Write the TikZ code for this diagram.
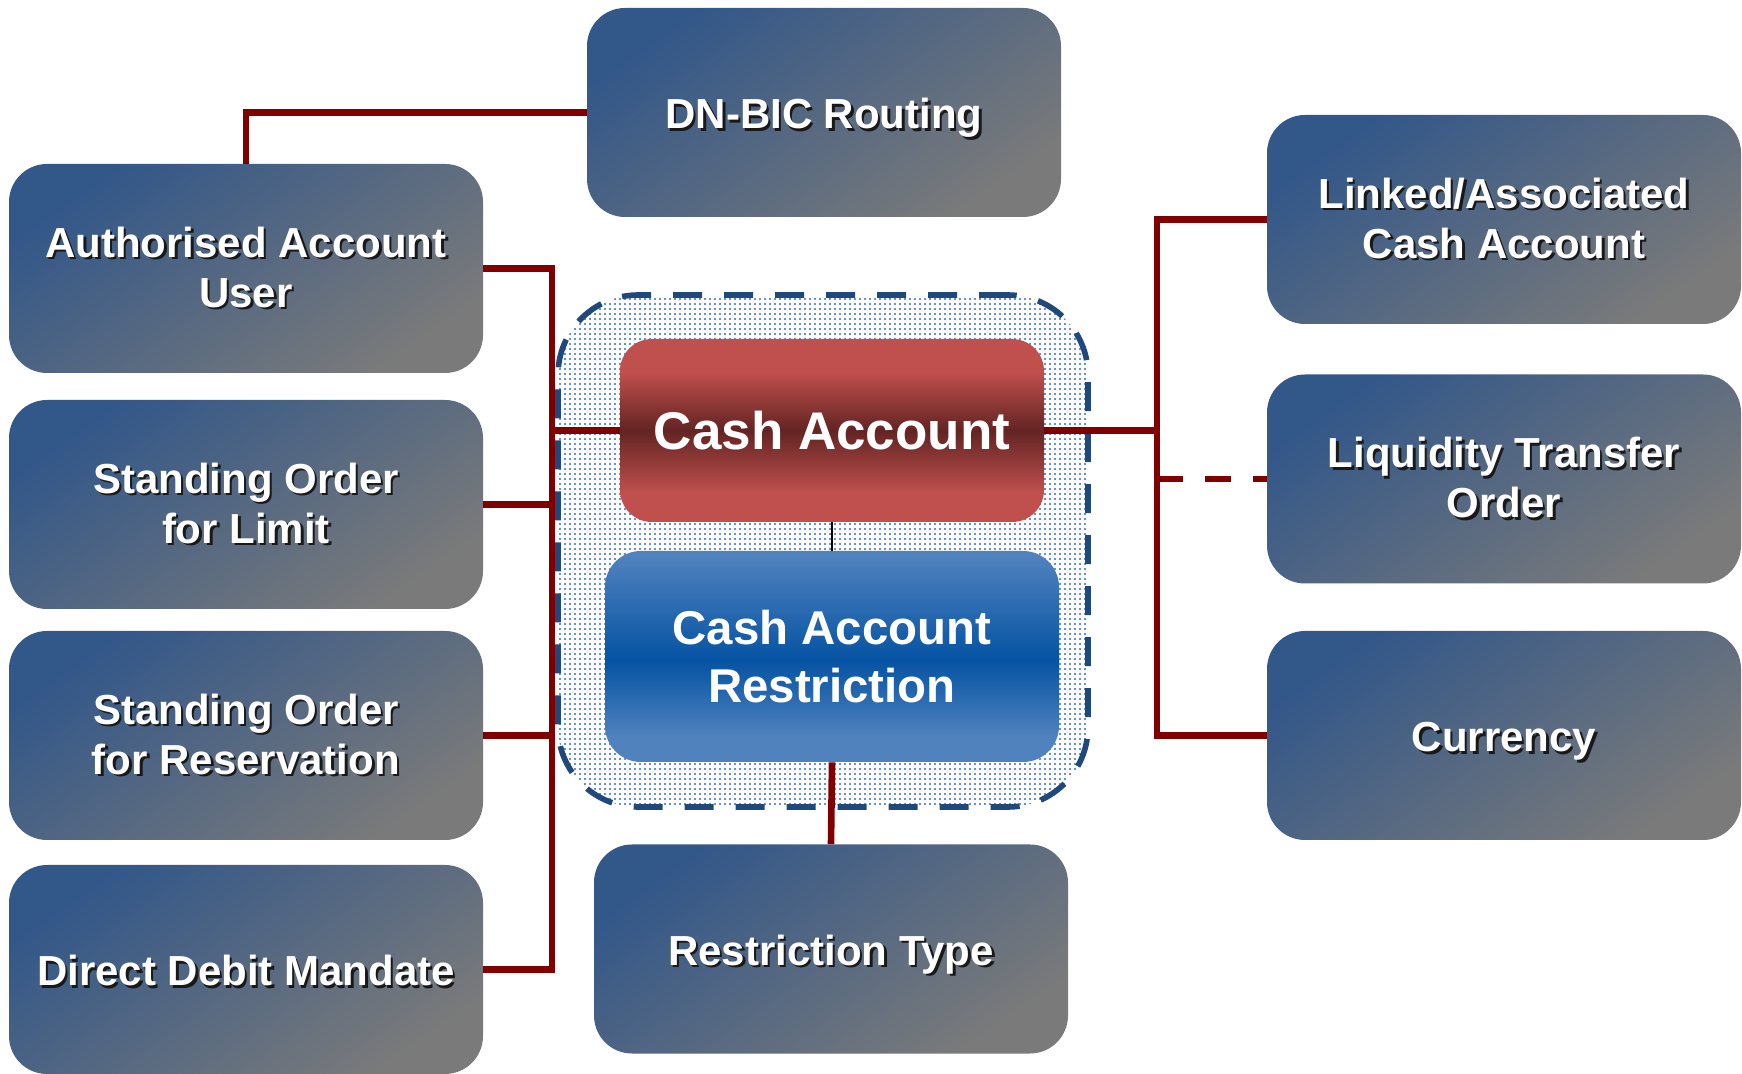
\documentclass[tikz,border=0pt]{standalone}
\usepackage{fontspec}
\setmainfont{Liberation Sans}
\usetikzlibrary{patterns.meta}

\definecolor{boxtop}{RGB}{50,87,137}
\definecolor{boxbot}{RGB}{122,122,122}
\definecolor{linkc}{RGB}{128,0,0}
\definecolor{redlight}{RGB}{192,80,77}
\definecolor{reddark}{RGB}{99,36,35}
\definecolor{bluelight}{RGB}{80,130,190}
\definecolor{bluedark}{RGB}{5,83,163}
\definecolor{framec}{RGB}{31,73,125}
\definecolor{dotc}{RGB}{55,105,185}
\definecolor{shadowc}{RGB}{25,25,25}

% vertical bands: the path spans 25bp..75bp of the shading
\pgfdeclareverticalshading{redbar}{100bp}{color(0bp)=(redlight); color(33bp)=(redlight);
  color(50bp)=(reddark); color(66bp)=(redlight); color(100bp)=(redlight)}
\pgfdeclareverticalshading{bluebar}{100bp}{color(0bp)=(bluelight); color(31bp)=(bluelight);
  color(49bp)=(bluedark); color(74bp)=(bluelight); color(100bp)=(bluelight)}

% white label with a dark drop shadow
\newcommand\shd[1]{\leavevmode\rlap{\kern1.2pt\raisebox{-1.2pt}{\textcolor{shadowc}{#1}}}#1}

\tikzset{
  entity/.style={rectangle, rounded corners=19pt, minimum width=237pt,
    minimum height=104.5pt, inner sep=0pt, text=white, align=center,
    font=\bfseries\fontsize{21}{25}\selectfont,
    top color=boxtop, bottom color=boxbot, shading angle=35},
  oneline/.style={text height=16.5pt, text depth=0pt},
  corebox/.style={rectangle, rounded corners=16pt, minimum width=212pt,
    minimum height=91.5pt, inner sep=0pt, text=white, align=center,
    font=\bfseries\fontsize{26.5}{30}\selectfont, shade, shading=redbar},
  restrbox/.style={rectangle, rounded corners=18pt, minimum width=227pt,
    minimum height=105.5pt, inner sep=0pt, text=white, align=center,
    font=\bfseries\fontsize{23.7}{29}\selectfont, shade, shading=bluebar},
  groupframe/.style={rectangle, rounded corners=40pt, minimum width=265pt,
    minimum height=256pt, inner sep=0pt, draw=framec, line width=2.8pt,
    dash pattern=on 14.5pt off 11pt,
    pattern={Dots[distance=2.5pt,radius=0.55pt]}, pattern color=dotc},
  link/.style={draw=linkc, line width=3.3pt},
  optlink/.style={link, dash pattern=on 13pt off 11pt},
}

\begin{document}
\begin{tikzpicture}[x=0.5pt, y=-0.5pt]
\useasboundingbox (0,0) rectangle (1742,1074);

% grouping frame around the account and its restriction
\node[groupframe] (grp) at (823,551) {};

% left column
\node[entity] (auth) at (246,268.5) {\shd{Authorised Account}\\\shd{User}};
\node[entity] (lim)  at (246,504.5) {\shd{Standing Order}\\\shd{for Limit}};
\node[entity] (res)  at (246,735.5) {\shd{Standing Order}\\\shd{for Reservation}};
\node[entity, oneline] (ddm) at (246,969.5) {\shd{Direct Debit Mandate}};

% top and bottom
\node[entity, oneline] (dn) at (824,112.5) {\shd{DN-BIC Routing}};
\node[entity, oneline] (rt) at (831,949) {\shd{Restriction Type}};

% right column
\node[entity] (lnk) at (1504,219.5) {\shd{Linked/Associated}\\\shd{Cash Account}};
\node[entity] (liq) at (1504,479) {\shd{Liquidity Transfer}\\\shd{Order}};
\node[entity, oneline] (cur) at (1504,735.5) {\shd{Currency}};

% core entities
\node[corebox] (ca) at (832,430.5) {Cash Account};
\node[restrbox] (car) at (832,656.5) {Cash Account\\Restriction};

% bus positions
\coordinate (lb) at (552,0);
\coordinate (rb) at (1157,0);

% left bus
\draw[link] (auth.east) -| (lb |- ddm.east) -- (ddm.east);
\draw[link] (lim.east) -- (lim.east -| lb);
\draw[link] (res.east) -- (res.east -| lb);
\draw[link] (ca.west) -- (ca.west -| lb);

% DN-BIC routing
\draw[link] (auth.north) |- (dn.west);

% right bus
\draw[link] (lnk.west) -| (rb |- cur.west) -- (cur.west);
\draw[link] (ca.east) -- (ca.east -| rb);
\draw[optlink] (rb |- liq.west) -- (liq.west);

% account to restriction to type
\draw[black, line width=0.6pt] (ca.south) -- (car.north);
\draw[link] (car.south) -- (rt.north);
\end{tikzpicture}
\end{document}
